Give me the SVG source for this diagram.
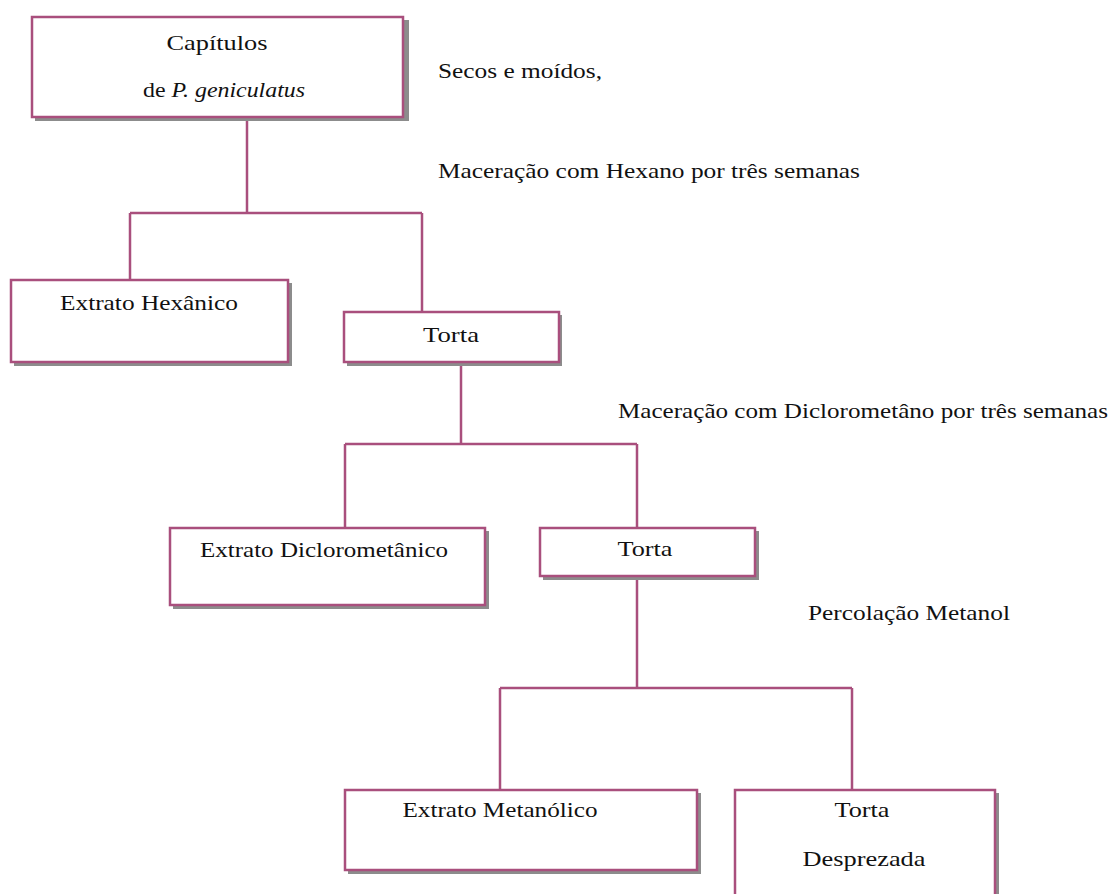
<svg xmlns="http://www.w3.org/2000/svg" width="1110" height="894" viewBox="0 0 1110 894">
<style>
.box{fill:#ffffff;stroke:#a94f7d;stroke-width:2.5}
.sh{fill:#8c8c8c}
.ln{stroke:#a94f7d;stroke-width:2.5;fill:none}
.t{font-family:"Liberation Serif","Times New Roman",serif;font-size:22px;fill:#111}
.c{text-anchor:middle}
</style>
<rect width="1110" height="894" fill="#ffffff"/>
<g id="connectors">
<path class="ln" d="M247 117 V213 M130 213 H422 M130 213 V280 M422 213 V312"/>
<path class="ln" d="M461 362 V444 M345 444 H637 M345 444 V528 M637 444 V528"/>
<path class="ln" d="M637 576 V688 M500 688 H852 M500 688 V790 M852 688 V790"/>
</g>
<g id="n-capitulos">
<rect class="sh" x="35" y="20" width="374" height="101"/>
<rect class="box" x="32" y="17" width="371" height="100"/>
<text class="t c" x="217" y="50" textLength="101" lengthAdjust="spacingAndGlyphs">Capítulos</text>
<text class="t c" x="224" y="97" textLength="162" lengthAdjust="spacingAndGlyphs">de <tspan font-style="italic">P. geniculatus</tspan></text>
</g>
<g id="l-secos"><text class="t" x="438" y="78" textLength="164" lengthAdjust="spacingAndGlyphs">Secos e moídos,</text></g>
<g id="l-hexano"><text class="t" x="438" y="178" textLength="422" lengthAdjust="spacingAndGlyphs">Maceração com Hexano por  três semanas</text></g>
<g id="n-hexanico">
<rect class="sh" x="14" y="283" width="278" height="83"/>
<rect class="box" x="11" y="280" width="277" height="82"/>
<text class="t c" x="149" y="310" textLength="178" lengthAdjust="spacingAndGlyphs">Extrato Hexânico</text>
</g>
<g id="n-torta1">
<rect class="sh" x="347" y="315" width="215" height="51"/>
<rect class="box" x="344" y="312" width="215" height="50"/>
<text class="t c" x="451" y="342" textLength="56" lengthAdjust="spacingAndGlyphs">Torta</text>
</g>
<g id="l-dcm"><text class="t" x="618" y="418" textLength="490" lengthAdjust="spacingAndGlyphs">Maceração com Diclorometâno por três semanas</text></g>
<g id="n-dcm">
<rect class="sh" x="173" y="531" width="316" height="78"/>
<rect class="box" x="170" y="528" width="315" height="77"/>
<text class="t c" x="324" y="557" textLength="248" lengthAdjust="spacingAndGlyphs">Extrato Diclorometânico</text>
</g>
<g id="n-torta2">
<rect class="sh" x="543" y="531" width="216" height="49"/>
<rect class="box" x="540" y="528" width="215" height="48"/>
<text class="t c" x="645" y="556" textLength="55" lengthAdjust="spacingAndGlyphs">Torta</text>
</g>
<g id="l-perc"><text class="t" x="808" y="620" textLength="202" lengthAdjust="spacingAndGlyphs">Percolação Metanol</text></g>
<g id="n-metanolico">
<rect class="sh" x="348" y="793" width="353" height="81"/>
<rect class="box" x="345" y="790" width="352" height="80"/>
<text class="t c" x="500" y="817" textLength="195" lengthAdjust="spacingAndGlyphs">Extrato Metanólico</text>
</g>
<g id="n-desprezada">
<rect class="sh" x="738" y="793" width="261" height="130"/>
<rect class="box" x="735" y="790" width="260" height="130"/>
<text class="t c" x="862" y="817" textLength="55" lengthAdjust="spacingAndGlyphs">Torta</text>
<text class="t c" x="864" y="866" textLength="123" lengthAdjust="spacingAndGlyphs">Desprezada</text>
</g>
</svg>
